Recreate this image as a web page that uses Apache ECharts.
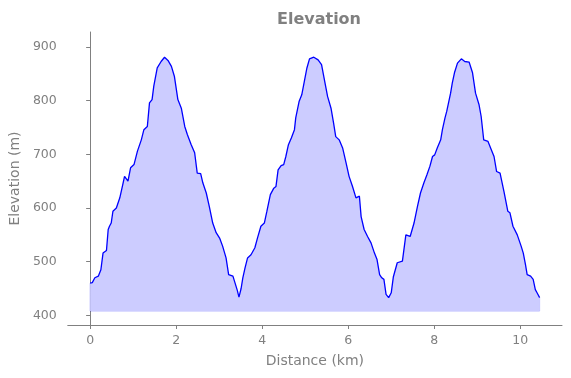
<!DOCTYPE html>
<html>
<head>
<meta charset="utf-8">
<script src="https://cdn.jsdelivr.net/npm/echarts@6/dist/echarts.min.js"></script>
<style>
  html, body { margin: 0; padding: 0; background: #fff; }
  #chart { width: 571px; height: 378px; }
</style>
</head>
<body>
<div id="chart"></div>
<script>
// distance along the route (km) and elevation (m)
var distKm = [
  0.00, 0.05, 0.11, 0.19, 0.25, 0.30, 0.38, 0.42, 0.45, 0.49, 0.53, 0.61, 0.69, 0.76, 0.80, 0.88, 0.94,
  1.02, 1.10, 1.19, 1.25, 1.33, 1.38, 1.44, 1.48, 1.56, 1.65, 1.73, 1.81, 1.89, 1.96,
  2.04, 2.12, 2.20, 2.26, 2.35, 2.43, 2.49, 2.57, 2.62, 2.70, 2.77, 2.85, 2.93,
  3.01, 3.08, 3.16, 3.22, 3.32, 3.37, 3.42, 3.46, 3.51, 3.55, 3.60, 3.66, 3.74, 3.83, 3.89, 3.97,
  4.05, 4.11, 4.19, 4.27, 4.32, 4.37, 4.44, 4.50, 4.55, 4.61, 4.68, 4.75, 4.78, 4.86, 4.92, 4.98,
  5.04, 5.10, 5.20, 5.30, 5.38, 5.46, 5.52, 5.60, 5.66, 5.71, 5.79, 5.87, 5.95,
  6.02, 6.10, 6.18, 6.22, 6.26, 6.30, 6.37, 6.45, 6.53, 6.61, 6.67, 6.73, 6.78, 6.83, 6.88, 6.94,
  7.00, 7.05, 7.14, 7.26, 7.34, 7.44, 7.53, 7.61, 7.68, 7.76, 7.83, 7.90, 7.96,
  8.01, 8.07, 8.15, 8.19, 8.25, 8.29, 8.38, 8.42, 8.47, 8.54, 8.63, 8.71, 8.81, 8.89, 8.96,
  9.04, 9.09, 9.15, 9.25, 9.31, 9.39, 9.45, 9.53, 9.62, 9.71, 9.76, 9.83, 9.93,
  10.02, 10.07, 10.12, 10.16, 10.24, 10.30, 10.35, 10.39, 10.45
];
var elevM = [
  460, 461, 470, 473, 485, 516, 521, 560, 566, 572, 594, 600, 619, 644, 659, 650, 675,
  681, 706, 727, 746, 752, 796, 802, 827, 861, 873, 881, 875, 864, 845,
  802, 786, 752, 737, 718, 703, 665, 664, 647, 628, 603, 572, 554,
  544, 529, 507, 476, 473, 460, 447, 434, 450, 470, 488, 507, 513, 526, 544, 566,
  572, 594, 625, 637, 640, 671, 679, 681, 696, 718, 731, 746, 768, 799, 811, 836,
  861, 878, 881, 876, 867, 833, 808, 786, 758, 733, 727, 712, 684,
  659, 640, 619, 616, 622, 584, 560, 547, 535, 516, 504, 476, 470, 467, 439, 433,
  442, 472, 498, 501, 550, 547, 572, 603, 628, 647, 662, 678, 696,
  699, 712, 727, 746, 768, 780, 814, 833, 852, 870, 878, 873, 872, 852, 814,
  793, 771, 727, 724, 712, 696, 668, 665, 631, 594, 591, 566, 550,
  529, 516, 495, 476, 473, 467, 448, 442, 433
];
var fillBase = 408;
var xTicks = [0, 2, 4, 6, 8, 10];
var yTicks = [400, 500, 600, 700, 800, 900];

var profile = distKm.map(function (d, i) { return [d, elevM[i]]; });
var last = distKm.length - 1;
var fillEdge = [
  [distKm[0], elevM[0]], [distKm[0], fillBase],
  [distKm[last], fillBase], [distKm[last], elevM[last]]
];

var gray = '#808080';
var font = 'DejaVu Sans';

var chart = echarts.init(document.getElementById('chart'), null, { renderer: 'canvas' });
chart.setOption({
  animation: false,
  backgroundColor: '#fff',
  title: {
    text: 'Elevation',
    left: 314,
    textAlign: 'center',
    top: 7,
    textStyle: { color: gray, fontFamily: font, fontSize: 16, fontWeight: 'bold' }
  },
  grid: { left: 66, right: 9, top: 32, bottom: 53 },
  xAxis: {
    type: 'value',
    min: -0.52,
    max: 10.97,
    name: 'Distance (km)',
    nameLocation: 'middle',
    nameGap: 29,
    nameTextStyle: { color: gray, fontFamily: font, fontSize: 14 },
    splitLine: { show: false },
    axisLine: { show: true, lineStyle: { color: gray, width: 1 } },
    axisTick: { show: true, length: 4, customValues: xTicks, lineStyle: { color: gray } },
    axisLabel: { color: gray, fontFamily: font, fontSize: 12.5, margin: 9, customValues: xTicks }
  },
  yAxis: {
    type: 'value',
    min: 382,
    max: 928,
    name: 'Elevation (m)',
    nameLocation: 'middle',
    nameGap: 40,
    nameTextStyle: { color: gray, fontFamily: font, fontSize: 14 },
    splitLine: { show: false },
    axisLine: { show: true, lineStyle: { color: gray, width: 1 } },
    axisTick: { show: true, length: 4, customValues: yTicks, lineStyle: { color: gray } },
    axisLabel: { color: gray, fontFamily: font, fontSize: 12.5, margin: 11, customValues: yTicks }
  },
  series: [
    {
      type: 'line',
      data: profile,
      symbol: 'none',
      lineStyle: { color: '#0000ff', width: 1.3 },
      areaStyle: { color: '#ccccff', opacity: 1, origin: fillBase },
      z: 3
    },
    {
      type: 'line',
      data: fillEdge,
      symbol: 'none',
      lineStyle: { color: 'rgba(0,0,255,0.25)', width: 1 },
      z: 2
    }
  ]
});
</script>
</body>
</html>
